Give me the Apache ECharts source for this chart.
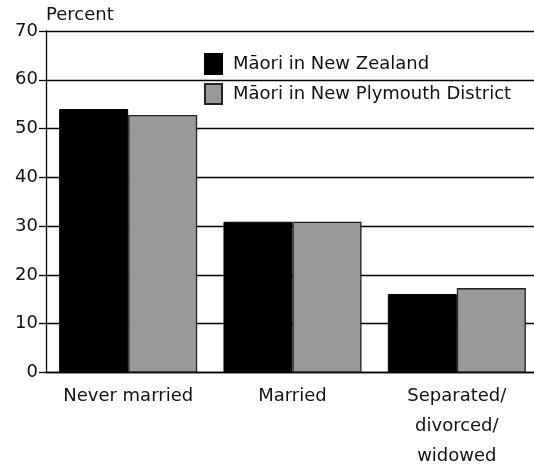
<!DOCTYPE html>
<html>
<head>
<meta charset="utf-8">
<script src="https://cdn.jsdelivr.net/npm/echarts@6/dist/echarts.min.js"></script>
<style>
    html, body { margin: 0; padding: 0; background: #fff; }
    #chart { width: 534px; height: 467px; }
</style>
</head>
<body>
<div id="chart"></div>
<script>
    // marital status categories
    var categories = ['Never married', 'Married', 'Separated/\ndivorced/\nwidowed'];
    var seriesNames = ['Māori in New Zealand', 'Māori in New Plymouth District'];
    var nzValues = [54.0, 30.9, 16.1];
    var npValues = [52.8, 30.9, 17.3];

    var font = 'DejaVu Sans';
    var chart = echarts.init(document.getElementById('chart'));
    var option = {
        animation: false,
        backgroundColor: '#fff',
        textStyle: { fontFamily: font, color: '#111' },
        grid: { left: 46, right: -5, top: 31, bottom: 94.5, outerBoundsMode: 'none', containLabel: false },
        legend: {
            orient: 'vertical',
            left: 199,
            top: 48,
            itemWidth: 17,
            itemHeight: 20,
            itemGap: 8,
            icon: 'rect',
            textStyle: { fontFamily: font, fontSize: 18, color: '#111', lineHeight: 20, padding: [0, 0, 0, 6] },
            data: seriesNames
        },
        xAxis: {
            type: 'category',
            data: categories,
            axisLine: { lineStyle: { color: '#000', width: 1.3 } },
            axisTick: { show: false },
            axisLabel: { fontFamily: font, fontSize: 18, color: '#111', lineHeight: 30, margin: 9, interval: 0 }
        },
        yAxis: {
            type: 'value',
            min: 0,
            max: 70,
            interval: 10,
            name: 'Percent',
            nameLocation: 'end',
            nameGap: 7,
            nameTextStyle: { fontFamily: font, fontSize: 18, color: '#111', align: 'left', padding: [0, 0, 0, 0] },
            axisLine: { show: true, lineStyle: { color: '#000', width: 1.3 } },
            axisTick: { show: true, length: 7, lineStyle: { color: '#000', width: 1.3 } },
            axisLabel: { fontFamily: font, fontSize: 18, color: '#111', margin: 8 },
            splitLine: { lineStyle: { color: '#000', width: 1.3 } }
        },
        series: [
            {
                name: seriesNames[0],
                type: 'bar',
                data: nzValues,
                barGap: '0%',
                barCategoryGap: '16%',
                itemStyle: { color: '#000', borderColor: '#000', borderWidth: 1 }
            },
            {
                name: seriesNames[1],
                type: 'bar',
                data: npValues,
                itemStyle: { color: '#999', borderColor: '#222', borderWidth: 1.3 }
            }
        ]
    };
    chart.setOption(option);
</script>
</body>
</html>
